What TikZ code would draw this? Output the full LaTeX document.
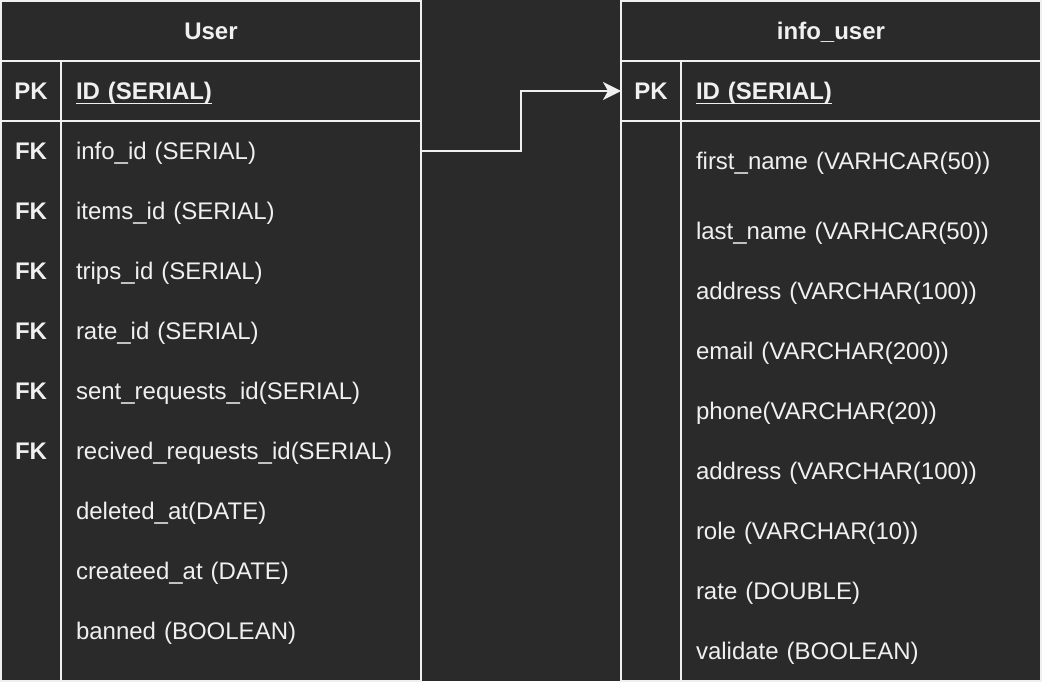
\documentclass[tikz,border=0pt]{standalone}
\usepackage{fontspec}
\setmainfont{Liberation Sans}
\usepackage{xcolor}
\definecolor{darkbg}{HTML}{2A2A2A}
\definecolor{lineclr}{HTML}{F0F0F0}
\usetikzlibrary{arrows.meta, positioning}
\newcommand\keyul[1]{\setbox0\hbox{#1}\rlap{\rule[-5pt]{\wd0}{1.6pt}}\box0}

\begin{document}
\begin{tikzpicture}[
    x=1pt, y=-1pt,
    cell/.style={inner sep=0pt, outer sep=0pt, text=lineclr, text height=18pt, text depth=1.5pt, font=\fontsize{24}{29}\selectfont},
    tblhead/.style={cell, draw=lineclr, line width=2pt, minimum width=420pt, minimum height=60pt, font=\fontsize{24}{29}\selectfont\bfseries},
    keycell/.style={cell, minimum width=60pt, minimum height=60pt, font=\fontsize{24}{29}\selectfont\bfseries},
    fieldcell/.style={cell, minimum width=360pt, minimum height=#1, text width=330pt, align=left},
    fieldcell/.default=60pt,
    tbl/.style={draw=lineclr, line width=2pt},
    arr/.style={-{Stealth[length=18pt, width=18pt, inset=5pt]}, line width=2pt, color=lineclr},
]
    \fill[darkbg] (0,0) rectangle (1042,681);
    \useasboundingbox (0,0) rectangle (1042,682);

    % User table
    \node[tblhead] (uhead) at (211,31) {User};
    \node[keycell, below right=0pt and 0pt of uhead.south west] (upk) {PK};
    \node[fieldcell, right=0pt of upk] (uid) {\bfseries\keyul{ID (SERIAL)}};
    \node[keycell, below=0pt of upk] (ufk1) {FK};
    \node[fieldcell, right=0pt of ufk1] (uinfo) {info\_id (SERIAL)};
    \node[keycell, below=0pt of ufk1] (ufk2) {FK};
    \node[fieldcell, right=0pt of ufk2] (uitems) {items\_id (SERIAL)};
    \node[keycell, below=0pt of ufk2] (ufk3) {FK};
    \node[fieldcell, right=0pt of ufk3] (utrips) {trips\_id (SERIAL)};
    \node[keycell, below=0pt of ufk3] (ufk4) {FK};
    \node[fieldcell, right=0pt of ufk4] (urate) {rate\_id (SERIAL)};
    \node[keycell, below=0pt of ufk4] (ufk5) {FK};
    \node[fieldcell, right=0pt of ufk5] (usent) {sent\_requests\_id(SERIAL)};
    \node[keycell, below=0pt of ufk5] (ufk6) {FK};
    \node[fieldcell, right=0pt of ufk6] (urecv) {recived\_requests\_id(SERIAL)};
    \node[fieldcell, below=0pt of urecv] (udel) {deleted\_at(DATE)};
    \node[fieldcell, below=0pt of udel] (ucre) {createed\_at (DATE)};
    \node[fieldcell, below=0pt of ucre] (uban) {banned (BOOLEAN)};

    % info_user table
    \node[tblhead] (ihead) at (831,31) {info\_user};
    \node[keycell, below right=0pt and 0pt of ihead.south west] (ipk) {PK};
    \node[fieldcell, right=0pt of ipk] (iid) {\bfseries\keyul{ID (SERIAL)}};
    \node[fieldcell=80pt, below=0pt of iid] (ifirst) {first\_name (VARHCAR(50))};
    \node[fieldcell, below=0pt of ifirst] (ilast) {last\_name (VARHCAR(50))};
    \node[fieldcell, below=0pt of ilast] (iaddr) {address (VARCHAR(100))};
    \node[fieldcell, below=0pt of iaddr] (imail) {email (VARCHAR(200))};
    \node[fieldcell, below=0pt of imail] (iphone) {phone(VARCHAR(20))};
    \node[fieldcell, below=0pt of iphone] (iaddrb) {address (VARCHAR(100))};
    \node[fieldcell, below=0pt of iaddrb] (irole) {role (VARCHAR(10))};
    \node[fieldcell, below=0pt of irole] (irate) {rate (DOUBLE)};
    \node[fieldcell, below=0pt of irate] (ivalid) {validate (BOOLEAN)};

    % Borders
    \draw[tbl] (uhead.north west) rectangle (uban.east |- ivalid.south);
    \draw[tbl] (upk.south west) -- (uid.south east);
    \draw[tbl] (upk.north east) -- (upk.north east |- ivalid.south);
    \draw[tbl] (ihead.north west) rectangle (ivalid.south east);
    \draw[tbl] (ipk.south west) -- (iid.south east);
    \draw[tbl] (ipk.north east) -- (ipk.north east |- ivalid.south);

    % FK link
    \draw[arr] (uinfo.east) -- ++(100,0) |- (ipk.west);
\end{tikzpicture}
\end{document}
